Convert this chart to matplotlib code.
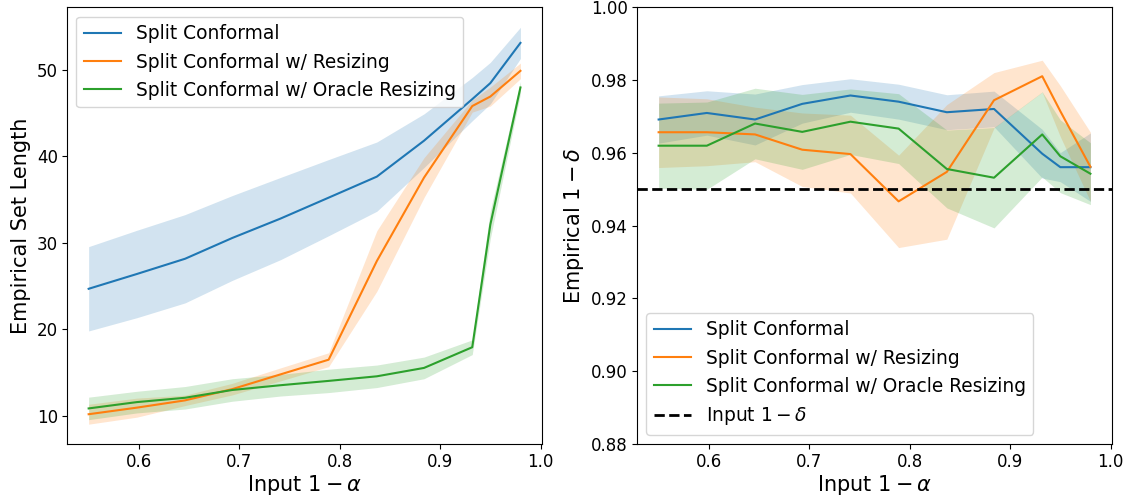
import numpy as np
import matplotlib
matplotlib.use('Agg')
import matplotlib.pyplot as plt

# input 1 - alpha
alphas = [0.55, 0.598, 0.646, 0.693, 0.741, 0.789, 0.837, 0.884, 0.932, 0.95, 0.98]

labels = ['Split Conformal', 'Split Conformal w/ Resizing', 'Split Conformal w/ Oracle Resizing']

# left panel: empirical set length (mean, std)
len_split = [24.69, 26.4, 28.16, 30.56, 32.8, 35.22, 37.65, 41.8, 46.6, 48.45, 53.1]
len_split_std = [4.87, 5.05, 5.1, 4.9, 4.75, 4.4, 4.0, 3.1, 2.5, 2.4, 1.8]
len_resize = [10.2, 10.96, 11.8, 13.1, 14.8, 16.5, 27.9, 37.54, 45.8, 46.9, 49.87]
len_resize_std = [1.15, 1.1, 0.6, 0.67, 0.75, 0.8, 3.5, 2.3, 0.7, 1.1, 0.9]
len_oracle = [10.87, 11.6, 12.1, 13.0, 13.55, 14.05, 14.58, 15.55, 17.94, 32.1, 47.95]
len_oracle_std = [1.3, 1.25, 1.3, 1.3, 1.25, 1.35, 1.3, 1.25, 0.85, 1.6, 0.7]

# right panel: empirical 1 - delta (mean, std)
cov_split = [0.9692, 0.9710, 0.9692, 0.9735, 0.9758, 0.9741, 0.9712, 0.9721, 0.9598, 0.9561, 0.9561]
cov_split_std = [0.0065, 0.0061, 0.0070, 0.0053, 0.0046, 0.0048, 0.0048, 0.0049, 0.0067, 0.0040, 0.0094]
cov_resize = [0.9657, 0.9657, 0.9651, 0.9609, 0.9597, 0.9467, 0.9548, 0.9745, 0.9811, 0.9715, 0.9562]
cov_resize_std = [0.0097, 0.0092, 0.0075, 0.0101, 0.0107, 0.0127, 0.0185, 0.0076, 0.0044, 0.0070, 0.0095]
cov_oracle = [0.9620, 0.9620, 0.9681, 0.9658, 0.9686, 0.9667, 0.9556, 0.9532, 0.9651, 0.9591, 0.9543]
cov_oracle_std = [0.0117, 0.0120, 0.0097, 0.0103, 0.0090, 0.0096, 0.0107, 0.0138, 0.0117, 0.0100, 0.0085]

target = 0.95

fig, (ax1, ax2) = plt.subplots(1, 2, figsize=(11.27, 4.97), dpi=100)
fig.subplots_adjust(left=0.0595, right=0.9867, bottom=0.1066, top=0.985, wspace=0.2)

x = np.array(alphas)

#set length
for m, s, lab in zip([len_split, len_resize, len_oracle],
                     [len_split_std, len_resize_std, len_oracle_std], labels):
    m = np.array(m)
    s = np.array(s)
    line, = ax1.plot(x, m, label=lab, lw=1.5)
    ax1.fill_between(x, m - s, m + s, color=line.get_color(), alpha=0.2, lw=0)
ax1.set_xlabel(r'Input $1-\alpha$', fontsize=15, labelpad=1.5)
ax1.set_ylabel('Empirical Set Length', fontsize=15)
ax1.tick_params(labelsize=12, pad=3)
ax1.legend(loc='upper left', fontsize=13.4)

#coverage
for m, s, lab in zip([cov_split, cov_resize, cov_oracle],
                     [cov_split_std, cov_resize_std, cov_oracle_std], labels):
    m = np.array(m)
    s = np.array(s)
    line, = ax2.plot(x, m, label=lab, lw=1.5)
    ax2.fill_between(x, m - s, m + s, color=line.get_color(), alpha=0.2, lw=0)
ax2.axhline(target, color='black', ls='--', lw=2, label=r'Input $1-\delta$')
ax2.set_ylim(0.88, 1.0)
ax2.set_xlim(ax1.get_xlim())
ax2.set_xlabel(r'Input $1-\alpha$', fontsize=15, labelpad=1.5)
ax2.set_ylabel(r'Empirical $1-\delta$', fontsize=15)
ax2.tick_params(labelsize=12, pad=3)
ax2.legend(loc='lower left', fontsize=13.4)

plt.savefig('out.png')
